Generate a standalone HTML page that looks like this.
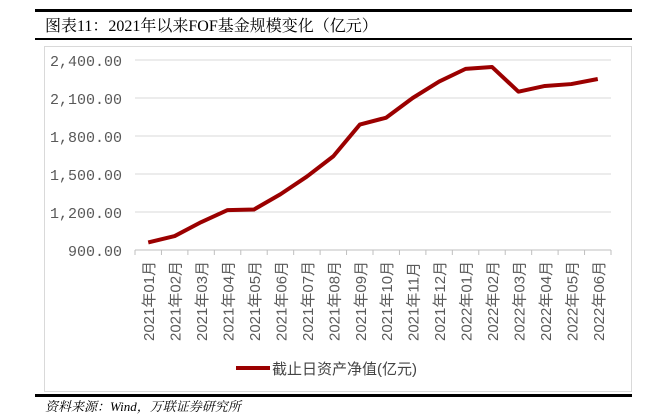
<!DOCTYPE html>
<html><head><meta charset="utf-8"><style>
body{margin:0;background:#fff;width:666px;height:414px;overflow:hidden;font-family:"Liberation Serif","Noto Serif CJK SC",serif;}
</style></head><body>
<svg width="666" height="414" xmlns="http://www.w3.org/2000/svg">
<rect x="35" y="9" width="597" height="3" fill="#000"/>
<text x="45" y="31" font-size="16" fill="#000" font-family="Liberation Serif,Noto Serif CJK SC,serif">图表11：2021年以来FOF基金规模变化（亿元）</text>
<rect x="35" y="38" width="597" height="2" fill="#000"/>
<rect x="44.5" y="46.5" width="587" height="345" fill="none" stroke="#d9d9d9"/>
<g id="grid"></g><g id="xaxis"></g>
<polyline id="line" fill="none" stroke="#9b0000" stroke-width="4" stroke-linejoin="round"/>
<line x1="236" y1="368" x2="270" y2="368" stroke="#9b0000" stroke-width="4"/>
<text x="272" y="374" font-size="15" fill="#444" font-family="Liberation Sans,Noto Sans CJK SC,sans-serif">截止日资产净值(亿元)</text>
<rect x="35" y="394" width="597" height="3" fill="#000"/>
<text x="45" y="411" font-size="13" font-style="italic" fill="#000" font-family="Liberation Serif,Noto Serif CJK SC,serif">资料来源：Wind，万联证券研究所</text>
</svg>
<script>
const categories=["2021年01月","2021年02月","2021年03月","2021年04月","2021年05月","2021年06月","2021年07月","2021年08月","2021年09月","2021年10月","2021年11月","2021年12月","2022年01月","2022年02月","2022年03月","2022年04月","2022年05月","2022年06月"];
const values=[960,1010,1120,1215,1220,1340,1480,1640,1890,1945,2100,2230,2330,2345,2150,2195,2210,2250];
const yTicks=[900,1200,1500,1800,2100,2400];
const yTickLabels=["900.00","1,200.00","1,500.00","1,800.00","2,100.00","2,400.00"];
const NS="http://www.w3.org/2000/svg";
const L=135,R=611,T=60,B=250,ymin=900,ymax=2400;
const step=(R-L)/categories.length;
const xs=i=>L+step*(i+0.5);
const ys=v=>B-(v-ymin)/(ymax-ymin)*(B-T);
const grid=document.getElementById('grid'),xa=document.getElementById('xaxis');
yTicks.forEach((t,i)=>{
 const l=document.createElementNS(NS,'line');
 l.setAttribute('x1',L);l.setAttribute('x2',R);l.setAttribute('y1',ys(t));l.setAttribute('y2',ys(t));
 l.setAttribute('stroke',i==0?'#bfbfbf':'#d9d9d9');
 
 
 grid.appendChild(l);
 const tx=document.createElementNS(NS,'text');
 tx.setAttribute('x',122);tx.setAttribute('y',ys(t)+6);tx.setAttribute('text-anchor','end');
 tx.setAttribute('font-size','15');tx.setAttribute('fill','#595959');
 tx.setAttribute('font-family','Liberation Mono,monospace');
 tx.textContent=yTickLabels[i];
 
 
 grid.appendChild(tx);
});
categories.forEach((c,i)=>{
 const tk=document.createElementNS(NS,'line');
 const x=L+step*i;
 tk.setAttribute('x1',x);tk.setAttribute('x2',x);tk.setAttribute('y1',B);tk.setAttribute('y2',B+5);tk.setAttribute('stroke','#bfbfbf');
 
 
 xa.appendChild(tk);
 const tx=document.createElementNS(NS,'text');
 const cx=xs(i)+6,cy=341;
 tx.setAttribute('x',cx);tx.setAttribute('y',cy);
 tx.setAttribute('transform','rotate(-90 '+cx+' '+cy+')');
 tx.setAttribute('font-size','15');tx.setAttribute('fill','#595959');
 tx.setAttribute('font-family','Liberation Sans,Noto Sans CJK SC,sans-serif');
 tx.textContent=c;
 
 
 xa.appendChild(tx);
});
const e=document.createElementNS(NS,'line');
e.setAttribute('x1',R);e.setAttribute('x2',R);e.setAttribute('y1',B);e.setAttribute('y2',B+5);e.setAttribute('stroke','#bfbfbf');


xa.appendChild(e);
document.getElementById('line').setAttribute('points',values.map((v,i)=>xs(i)+','+ys(v)).join(' '));
</script>
</body></html>
